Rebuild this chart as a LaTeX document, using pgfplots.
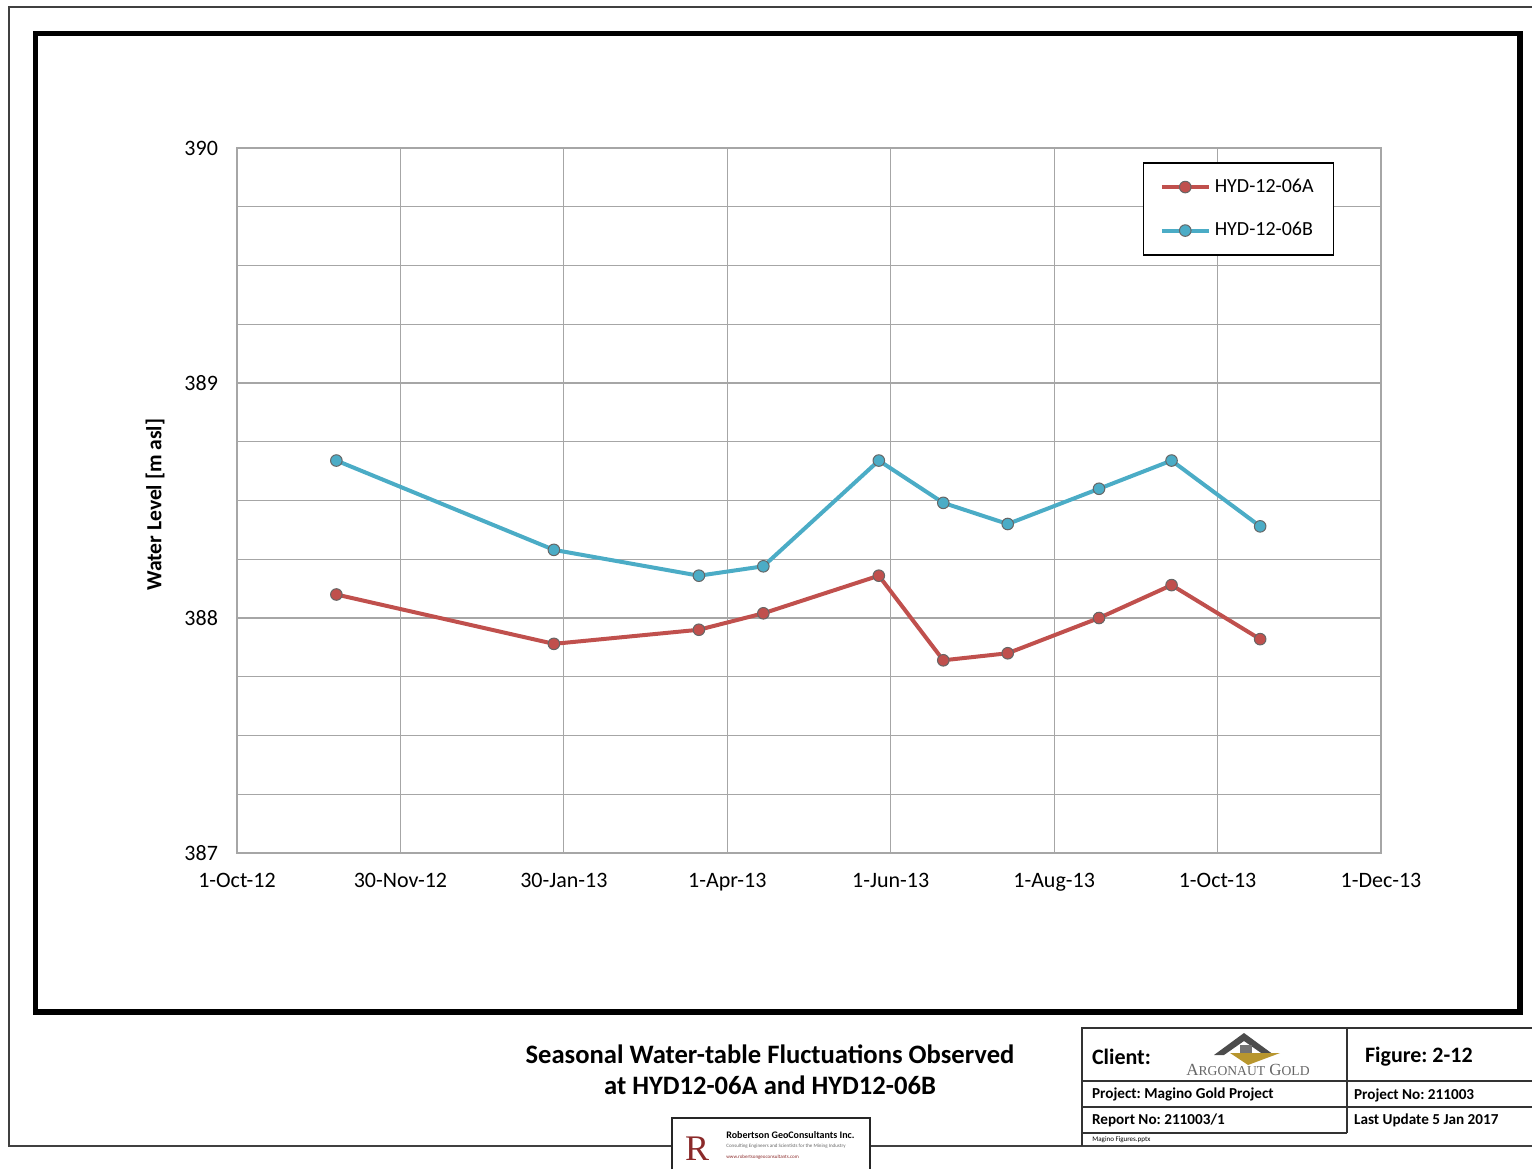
\documentclass[border=0pt]{standalone}
\usepackage{pgfplots}
\pgfplotsset{compat=1.18}
\usepackage{fontspec}
\setmainfont{Carlito}
\newfontfamily\seriffont{Liberation Serif}
\definecolor{sred}{HTML}{C0504D}
\definecolor{sblue}{HTML}{4BACC6}
\definecolor{gridc}{HTML}{A6A6A6}
\definecolor{agold}{HTML}{B8962E}
\definecolor{rgcred}{HTML}{8B2A2A}
\pgfplotstableread{
day level
37 388.10
118 387.89
172 387.95
196 388.02
239 388.18
263 387.82
287 387.85
321 388.00
348 388.14
381 387.91
}\seriesA
\pgfplotstableread{
day level
37 388.67
118 388.29
172 388.18
196 388.22
239 388.67
263 388.49
287 388.40
321 388.55
348 388.67
381 388.39
}\seriesB
\frenchspacing
\begin{document}
\begin{tikzpicture}
% page
\useasboundingbox (0,0) rectangle (766pt,584.5pt);
% outer thin frame
\draw[line width=1pt, black!75] (770pt,581pt) -- (4.5pt,581pt) -- (4.5pt,11.5pt) -- (770pt,11.5pt);
% inner thick frame
\draw[line width=2.6pt] (17.75pt,78.5pt) rectangle (760pt,567.75pt);
\begin{axis}[
  at={(118.5pt,158pt)}, anchor=south west,
  scale only axis, width=572pt, height=352.5pt,
  xmin=0, xmax=426, ymin=387, ymax=390,
  xtick={0,60.857,121.714,182.571,243.429,304.286,365.143,426},
  xticklabels={1-Oct-12,30-Nov-12,30-Jan-13,1-Apr-13,1-Jun-13,1-Aug-13,1-Oct-13,1-Dec-13},
  ytick={387,388,389,390},
  minor y tick num=3,
  grid=both,
  major grid style={gridc, line width=0.6pt},
  minor grid style={gridc, line width=0.6pt},
  axis line style={gridc, line width=0.8pt},
  tick style={draw=none},
  minor tick style={draw=none},
  /pgf/number format/assume math mode=true,
  ticklabel style={font=\fontsize{11}{13}\selectfont, text=black},
  xticklabel style={yshift=-6.5pt},
  yticklabel style={xshift=-6pt},
  ylabel={Water Level [m asl]},
  ylabel style={font=\bfseries\fontsize{10.8}{12}\selectfont, at={(axis description cs:-0.0717,0.494)}, anchor=center},
  legend style={at={(axis description cs:0.792,0.980)}, anchor=north west,
     draw=black, line width=0.7pt, font=\fontsize{10}{12}\selectfont,
     row sep=9.5pt, inner xsep=8pt, inner ysep=6pt, cells={anchor=west}},
  legend image code/.code={\draw[mark repeat=2,mark phase=2,#1] plot coordinates {(0pt,0pt) (11.75pt,0pt) (23.5pt,0pt)};},
]
\addplot[sred, line width=2pt, mark=*, mark size=2.9pt, mark options={fill=sred, draw=black!60, line width=0.5pt}] table[x=day,y=level] {\seriesA};
\addlegendentry{HYD-12-06A\hspace{6pt}}
\addplot[sblue, line width=2pt, mark=*, mark size=2.9pt, mark options={fill=sblue, draw=black!60, line width=0.5pt}] table[x=day,y=level] {\seriesB};
\addlegendentry{HYD-12-06B\hspace{6pt}}
\end{axis}
% title
\node[font=\bfseries\fontsize{13.3}{15.5}\selectfont, align=center] at (385pt,49.5pt) {Seasonal Water-table Fluctuations Observed\\[0pt]at HYD12-06A and HYD12-06B};
% title block
\draw[line width=0.9pt, black!80] (770pt,70.5pt) -- (541pt,70.5pt) -- (541pt,11.5pt);
\draw[line width=0.9pt, black!80] (541pt,44pt) -- (770pt,44pt);
\draw[line width=0.9pt, black!80] (541pt,31pt) -- (770pt,31pt);
\draw[line width=0.9pt, black!80] (541pt,18pt) -- (673.5pt,18pt);
\draw[line width=0.9pt, black!80] (673.5pt,70.5pt) -- (673.5pt,18pt);
\node[anchor=west, font=\bfseries\fontsize{11}{13}\selectfont] at (542.5pt,56pt) {Client:};
\node[anchor=west, font=\bfseries\fontsize{11}{13}\selectfont] at (679pt,56pt) {Figure: 2-12};
\node[anchor=west, font=\bfseries\fontsize{7.6}{8}\selectfont] at (542.5pt,37.5pt) {Project: Magino Gold Project};
\node[anchor=west, font=\bfseries\fontsize{7.6}{8}\selectfont] at (673.5pt,37pt) {Project No: 211003};
\node[anchor=west, font=\bfseries\fontsize{7.6}{8}\selectfont] at (542.5pt,24.5pt) {Report No: 211003/1};
\node[anchor=west, font=\bfseries\fontsize{7.6}{8}\selectfont] at (673.5pt,24.5pt) {Last Update 5 Jan 2017};
\node[anchor=west, font=\fontsize{3.5}{4}\selectfont, inner sep=0pt] at (546pt,14.5pt) {Magino Figures.pptx};
% Argonaut Gold logo
\fill[black!70] (607pt,57pt) -- (622pt,68pt) -- (637pt,57pt) -- (632pt,57pt) -- (622pt,64pt) -- (612pt,57pt) -- cycle;
\fill[agold] (615pt,58pt) -- (640pt,58pt) -- (624pt,52pt) -- cycle;
\fill[black!55] (620pt,62pt) -- (626pt,62pt) -- (626pt,58pt) -- (620pt,58pt) -- cycle;
\node[font=\seriffont\fontsize{8.5}{9}\selectfont, text=black!60] at (624pt,49.5pt) {A\scalebox{0.8}{RGONAUT} G\scalebox{0.8}{OLD}};
% Robertson logo
\fill[white] (336pt,0pt) rectangle (435pt,25.5pt);
\draw[line width=0.8pt, black!85] (336pt,0pt) -- (336pt,25.5pt) -- (435pt,25.5pt) -- (435pt,0pt);
\node[font=\seriffont\fontsize{18}{18}\selectfont, text=rgcred, inner sep=0pt] at (348.5pt,10pt) {R};
\node[anchor=west, font=\bfseries\fontsize{5}{6}\selectfont, inner sep=0pt] at (363pt,17pt) {Robertson GeoConsultants Inc.};
\node[anchor=west, font=\fontsize{2.5}{3}\selectfont, text=black!60, inner sep=0pt] at (363pt,11.5pt) {Consulting Engineers and Scientists for the Mining Industry};
\node[anchor=west, font=\fontsize{2.5}{3}\selectfont, text=rgcred, inner sep=0pt] at (363pt,6pt) {www.robertsongeoconsultants.com};
\end{tikzpicture}
\end{document}
